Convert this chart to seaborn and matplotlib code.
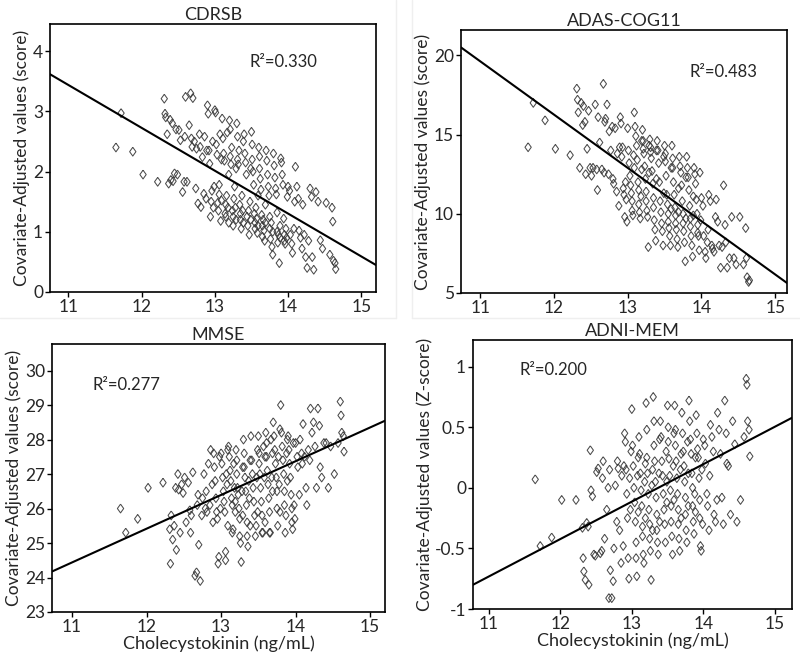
import matplotlib
matplotlib.use("Agg")
import matplotlib.pyplot as plt
from matplotlib.lines import Line2D
import numpy as np
import pandas as pd
import seaborn as sns

# ---------------- data ----------------
cck = [11.65, 11.72, 11.88, 12.02, 12.22,
       12.31, 12.32, 12.33, 12.35, 12.37, 12.39,
       12.40, 12.42, 12.43, 12.45, 12.47, 12.49,
       12.51, 12.53, 12.56, 12.58, 12.59,
       12.60, 12.62, 12.65, 12.67, 12.68, 12.69,
       12.70, 12.72, 12.74, 12.75, 12.77, 12.79,
       12.80, 12.81, 12.83, 12.85, 12.86, 12.88, 12.89,
       12.90, 12.91, 12.92, 12.93, 12.94, 12.95, 12.96, 12.97, 12.98, 12.99,
       13.00, 13.01, 13.02, 13.03, 13.04, 13.05, 13.06, 13.06, 13.07, 13.08, 13.09, 13.09,
       13.10, 13.11, 13.12, 13.13, 13.14, 13.15, 13.15, 13.16, 13.17, 13.18, 13.19, 13.19,
       13.20, 13.21, 13.21, 13.22, 13.23, 13.24, 13.25, 13.25, 13.26, 13.27, 13.28, 13.29, 13.29,
       13.30, 13.31, 13.31, 13.32, 13.33, 13.34, 13.35, 13.35, 13.36, 13.37, 13.38, 13.39, 13.39,
       13.40, 13.41, 13.42, 13.43, 13.44, 13.45, 13.46, 13.47, 13.48, 13.49, 13.49,
       13.50, 13.51, 13.51, 13.52, 13.53, 13.54, 13.55, 13.55, 13.56, 13.57, 13.58, 13.59, 13.59,
       13.60, 13.61, 13.61, 13.62, 13.63, 13.64, 13.65, 13.65, 13.66, 13.67, 13.68, 13.69, 13.69,
       13.70, 13.71, 13.72, 13.73, 13.74, 13.75, 13.75, 13.76, 13.77, 13.78, 13.79, 13.79,
       13.80, 13.81, 13.82, 13.83, 13.84, 13.85, 13.85, 13.86, 13.87, 13.88, 13.89, 13.89,
       13.90, 13.91, 13.92, 13.93, 13.94, 13.95, 13.95, 13.96, 13.97, 13.98, 13.99,
       14.00, 14.02, 14.03, 14.05, 14.06, 14.08, 14.09,
       14.10, 14.12, 14.14, 14.15, 14.17, 14.19,
       14.20, 14.22, 14.24, 14.26, 14.28,
       14.30, 14.32, 14.33, 14.35, 14.38,
       14.41, 14.44, 14.47,
       14.52, 14.57,
       14.60, 14.61, 14.62, 14.64, 14.65]

cdrsb = [2.40, 2.97, 2.33, 1.95, 1.83,
         3.21, 2.96, 2.90, 2.62, 1.80, 2.86,
         1.86, 2.80, 1.84, 1.97, 2.70, 1.95,
         2.69, 2.52, 1.66, 1.83, 2.58,
         3.24, 1.83, 2.77, 3.30, 2.55, 2.41,
         3.22, 2.50, 1.72, 2.38, 1.47, 2.62,
         2.41, 1.41, 2.24, 1.63, 2.58, 1.55, 2.35,
         3.10, 2.96, 2.35, 2.13, 1.25, 1.50, 1.68, 2.50, 1.40, 1.75,
         3.02, 2.98, 2.45, 2.28, 1.48, 1.35, 1.62, 1.78, 2.62, 1.18, 1.52, 2.20,
         2.88, 2.55, 2.30, 2.18, 1.30, 1.45, 1.25, 1.60, 2.65, 1.40, 1.95, 1.15,
         2.85, 2.70, 2.25, 2.12, 2.40, 1.35, 1.25, 1.10, 1.55, 1.75, 1.40, 2.05, 1.20,
         2.80, 2.58, 2.20, 2.12, 2.35, 1.45, 1.20, 1.30, 1.05, 1.60, 1.35, 2.50, 1.15,
         2.62, 2.30, 2.15, 1.95, 1.25, 1.10, 1.35, 0.95, 1.50, 1.20, 2.05,
         2.66, 2.45, 2.20, 2.00, 1.78, 1.30, 1.15, 1.05, 1.40, 1.22, 0.98, 1.60, 1.10,
         2.40, 2.25, 2.05, 1.88, 1.70, 1.28, 1.10, 0.92, 1.20, 1.02, 0.85, 1.45, 1.15,
         2.35, 2.18, 1.95, 1.75, 1.60, 1.25, 1.05, 0.88, 1.15, 0.75, 0.62, 1.00,
         2.30, 2.10, 1.90, 1.72, 1.62, 1.32, 1.00, 0.82, 0.95, 0.48, 0.90, 1.10,
         2.22, 2.15, 1.95, 1.78, 1.22, 0.95, 0.85, 0.80, 1.05, 0.90, 1.58,
         1.75, 1.68, 0.95, 0.80, 0.65, 1.05, 1.50,
         2.08, 1.75, 1.55, 1.02, 0.90, 0.72,
         1.45, 0.95, 0.58, 0.40, 0.85,
         1.72, 1.58, 0.58, 0.37, 1.66,
         1.50, 0.86, 0.72,
         1.48, 0.62,
         1.40, 1.17, 0.52, 0.48, 0.38]

adas = [14.2, 17.0, 15.9, 14.1, 13.7,
        17.9, 17.2, 16.4, 12.9, 17.0, 15.6,
        16.8, 15.8, 12.5, 14.1, 16.5, 12.9,
        12.4, 12.9, 16.9, 12.8, 11.5,
        16.1, 14.5, 12.8, 18.2, 12.6, 15.8,
        16.0, 16.9, 12.5, 15.2, 14.0, 15.5,
        12.2, 11.9, 15.4, 11.4, 13.8, 10.5, 14.2,
        16.1, 15.7, 13.6, 14.2, 11.6, 11.2, 9.8, 12.0, 10.9, 9.5,
        15.4, 14.0, 13.2, 12.4, 11.8, 11.3, 10.8, 10.2, 9.9, 13.7, 12.9, 16.4,
        15.5, 14.9, 14.3, 13.4, 12.0, 11.5, 10.6, 10.1, 9.7, 11.1, 12.8, 14.6,
        15.3, 14.6, 14.1, 13.8, 13.0, 12.2, 11.4, 10.8, 10.2, 9.8, 7.9, 12.6, 14.3,
        14.7, 14.2, 13.9, 13.5, 12.7, 11.9, 11.0, 10.4, 9.6, 9.0, 8.3, 14.0, 12.2,
        14.6, 14.0, 13.2, 12.0, 10.8, 10.1, 9.4, 8.9, 8.0, 11.3, 13.6,
        14.3, 13.8, 13.3, 12.4, 11.2, 10.6, 10.0, 9.5, 9.1, 8.6, 8.0, 12.9, 10.3,
        14.3, 13.5, 12.9, 12.0, 11.2, 10.4, 9.9, 9.4, 9.0, 8.4, 7.9, 11.6, 10.1,
        13.6, 13.0, 12.6, 11.8, 10.8, 10.0, 9.4, 8.9, 8.2, 7.0, 12.3, 9.7,
        13.6, 12.9, 12.3, 11.5, 10.5, 9.7, 9.2, 8.6, 8.0, 7.3, 11.1, 9.9,
        12.9, 12.5, 11.9, 10.9, 10.0, 9.3, 8.8, 8.6, 7.7, 12.6, 9.6,
        11.0, 10.5, 8.6, 7.6, 7.2, 8.2, 9.0,
        11.2, 10.8, 8.0, 7.8, 7.6, 9.8,
        10.9, 9.5, 8.0, 6.6, 7.9,
        11.8, 9.3, 8.2, 6.6, 7.2,
        9.8, 7.2, 6.8,
        9.8, 6.8,
        9.1, 7.2, 6.0, 5.7, 5.8]

mmse = [26.0, 25.3, 25.7, 26.6, 26.75,
        25.4, 24.4, 25.8, 25.1, 25.5, 26.6,
        24.8, 27.0, 26.55, 25.3, 26.7, 26.45,
        26.9, 25.6, 26.75, 25.95, 25.3,
        25.8, 27.05, 24.05, 24.15, 26.1, 26.4,
        24.95, 23.9, 25.8, 26.3, 27.0, 26.0,
        26.5, 25.9, 27.3, 26.1, 27.7, 26.7, 25.6,
        27.6, 27.2, 26.8, 26.3, 25.9, 25.7, 24.4, 24.6, 27.5, 26.0,
        27.6, 27.3, 26.9, 26.5, 26.2, 25.9, 24.75, 24.5, 27.0, 26.7, 25.5, 27.7,
        27.8, 27.5, 27.1, 26.8, 26.3, 26.1, 25.3, 25.4, 27.3, 26.6, 26.2, 25.9,
        27.7, 27.4, 27.0, 26.6, 26.4, 26.0, 25.7, 25.2, 25.0, 24.45, 26.5, 25.8, 27.2,
        28.0, 27.6, 27.2, 26.9, 26.5, 26.1, 25.6, 25.2, 24.9, 26.8, 26.3, 25.5, 27.4,
        28.1, 27.4, 27.0, 26.6, 26.2, 25.8, 25.2, 25.5, 26.9, 27.7, 25.9,
        28.1, 27.6, 27.3, 27.0, 26.6, 26.2, 25.8, 25.3, 25.3, 27.8, 26.9, 25.6, 27.5,
        28.2, 27.9, 27.5, 27.1, 26.7, 26.3, 25.9, 25.3, 25.3, 28.0, 26.9, 26.5, 27.6,
        28.5, 28.1, 27.7, 27.3, 26.9, 26.5, 26.0, 25.5, 27.5, 26.7, 28.3, 25.9,
        29.0, 28.2, 27.8, 27.4, 27.0, 26.5, 26.1, 25.3, 25.8, 27.6, 26.8, 28.0,
        28.1, 27.7, 27.3, 26.9, 26.4, 26.0, 25.6, 25.4, 27.9, 26.1, 25.7,
        27.9, 27.5, 27.2, 26.4, 28.0, 27.6, 27.3,
        28.45, 27.5, 26.6, 26.1, 27.7, 27.4,
        28.9, 28.2, 28.5, 27.8, 26.6,
        28.9, 28.4, 27.2, 26.9, 27.9,
        27.9, 26.6, 27.8,
        27.0, 27.9,
        29.1, 28.7, 28.2, 28.1, 27.65]

adni_mem = [0.07, -0.48, -0.41, -0.10, -0.10,
            -0.33, -0.58, -0.69, -0.76, -0.29, -0.32,
            -0.80, 0.31, -0.02, -0.07, -0.55, -0.56,
            0.13, 0.16, -0.54, -0.52, 0.08,
            0.22, -0.42, -0.18, 0.00, -0.91, 0.15,
            -0.68, -0.91, -0.77, -0.50, 0.02, -0.28,
            0.22, 0.16, -0.35, -0.62, 0.10, -0.48, 0.18,
            0.45, 0.38, 0.15, -0.05, -0.25, -0.58, -0.75, 0.08, -0.18, 0.30,
            0.65, 0.35, 0.18, 0.00, -0.12, -0.28, -0.45, -0.58, -0.73, 0.10, -0.20, 0.25,
            0.42, 0.28, 0.12, -0.02, -0.15, -0.32, -0.40, -0.55, -0.62, 0.05, -0.25, 0.20,
            0.70, 0.48, 0.25, 0.12, -0.05, -0.18, -0.30, -0.42, -0.52, -0.76, 0.02, -0.35, 0.15,
            0.75, 0.55, 0.35, 0.22, 0.05, -0.08, -0.22, -0.35, -0.45, -0.55, 0.12, -0.28, 0.40,
            0.55, 0.42, 0.22, 0.10, -0.05, -0.18, -0.30, -0.45, 0.30, -0.12, 0.05,
            0.68, 0.50, 0.38, 0.24, 0.10, -0.02, -0.15, -0.28, -0.40, -0.55, 0.18, -0.10, 0.45,
            0.68, 0.48, 0.35, 0.22, 0.08, -0.05, -0.18, -0.30, -0.42, -0.52, 0.15, -0.25, 0.28,
            0.62, 0.45, 0.30, 0.18, 0.05, -0.08, -0.22, -0.35, -0.45, 0.38, -0.15, 0.12,
            0.72, 0.55, 0.40, 0.28, 0.12, 0.00, -0.15, -0.28, -0.38, -0.05, 0.25, -0.20,
            0.60, 0.45, 0.32, 0.25, 0.08, -0.10, -0.25, -0.48, -0.52, 0.15, -0.30,
            0.40, 0.35, 0.20, -0.05, -0.15, -0.35, 0.10,
            0.52, 0.42, 0.30, -0.22, -0.28, -0.10,
            0.62, 0.48, 0.28, -0.08, -0.30,
            0.72, 0.45, 0.20, 0.18, -0.22,
            0.55, 0.36, -0.28,
            -0.10, 0.42,
            0.90, 0.85, 0.55, 0.48, 0.26]

panel_titles = ["CDRSB", "ADAS-COG11", "MMSE", "ADNI-MEM"]
r2_labels = ["R\u00b2=0.330", "R\u00b2=0.483", "R\u00b2=0.277", "R\u00b2=0.200"]
fit_slope = [-0.712, -3.364, 0.978, 0.309]
fit_intercept = [11.27, 56.63, 13.68, -4.131]
x_ticks = [11, 12, 13, 14, 15]
y_ticks = [[0, 1, 2, 3, 4], [5, 10, 15, 20], [23, 24, 25, 26, 27, 28, 29, 30],
           [-1, -0.5, 0, 0.5, 1]]
y_tick_labels = [["0", "1", "2", "3", "4"], ["5", "10", "15", "20"],
                 ["23", "24", "25", "26", "27", "28", "29", "30"],
                 ["-1", "-0.5", "0", "0.5", "1"]]
y_labels = ["Covariate-Adjusted values (score)"] * 3 + ["Covariate-Adjusted values (Z-score)"]
x_label = "Cholecystokinin (ng/mL)"

for col in (cdrsb, adas, mmse, adni_mem):
    assert len(col) == len(cck), (len(col), len(cck))

df = pd.DataFrame({"cck": cck, "CDRSB": cdrsb, "ADAS-COG11": adas,
                   "MMSE": mmse, "ADNI-MEM": adni_mem})

# ---------------- layout / style ----------------
sns.set_style("ticks")
plt.rcParams["font.family"] = ["Lato", "DejaVu Sans"]

W, H = 800, 659
fig = plt.figure(figsize=(8, 6.59), dpi=100)

# faint panel frames (as in the composed reference figure)
frame_col = "#efefef"
for (x0, y0, x1, y1) in [(0, 318, 396, 318), (396, 0, 396, 318), (412, 0, 412, 318),
                         (412, 318, 800, 318)]:
    fig.add_artist(Line2D([x0 / W, x1 / W], [1 - y0 / H, 1 - y1 / H],
                          color=frame_col, lw=1.0, transform=fig.transFigure))

# axes boxes in pixels: left, top, right, bottom
boxes = [(50, 24, 376, 292), (461, 30, 787, 293), (52, 344, 385, 612), (473, 340, 792, 609)]
xlims = [(10.75, 15.2), (10.74, 15.16), (10.73, 15.2), (10.78, 15.24)]
ylims = [(0, 4.45), (5, 21.6), (23, 30.77), (-1, 1.22)]
r2_pos = [(13.48, 3.82), (13.84, 18.94), (11.27, 29.58), (11.43, 0.97)]

diamond = [(0, 1), (0.72, 0), (0, -1), (-0.72, 0), (0, 1)]

for i, (name, box) in enumerate(zip(panel_titles, boxes)):
    l, t, r, b = box
    ax = fig.add_axes([l / W, 1 - b / H, (r - l) / W, (b - t) / H])
    sns.scatterplot(data=df, x="cck", y=name, ax=ax, marker=diamond, s=40,
                    facecolors="none", edgecolor="#383838", linewidth=0.75, alpha=0.9)
    ax.set_xlim(*xlims[i])
    ax.set_ylim(*ylims[i])
    xs = np.array(xlims[i])
    ax.plot(xs, fit_intercept[i] + fit_slope[i] * xs, color="black", lw=1.5)
    ax.set_xticks(x_ticks)
    ax.set_yticks(y_ticks[i])
    ax.set_yticklabels(y_tick_labels[i])
    ax.tick_params(axis="both", labelsize=12.5, length=3.5, width=1, pad=1.5, color="black")
    for sp in ax.spines.values():
        sp.set_visible(True)
        sp.set_linewidth(1.2)
        sp.set_color("black")
    ax.set_title(name, fontsize=13, pad=3)
    ax.set_ylabel(y_labels[i], fontsize=12.5, labelpad=2)
    if i >= 2:
        ax.set_xlabel(x_label, fontsize=13, labelpad=0)
    else:
        ax.set_xlabel("")
    ax.text(r2_pos[i][0], r2_pos[i][1], r2_labels[i], fontsize=12, va="center", ha="left")

fig.savefig("out.png", dpi=100)
